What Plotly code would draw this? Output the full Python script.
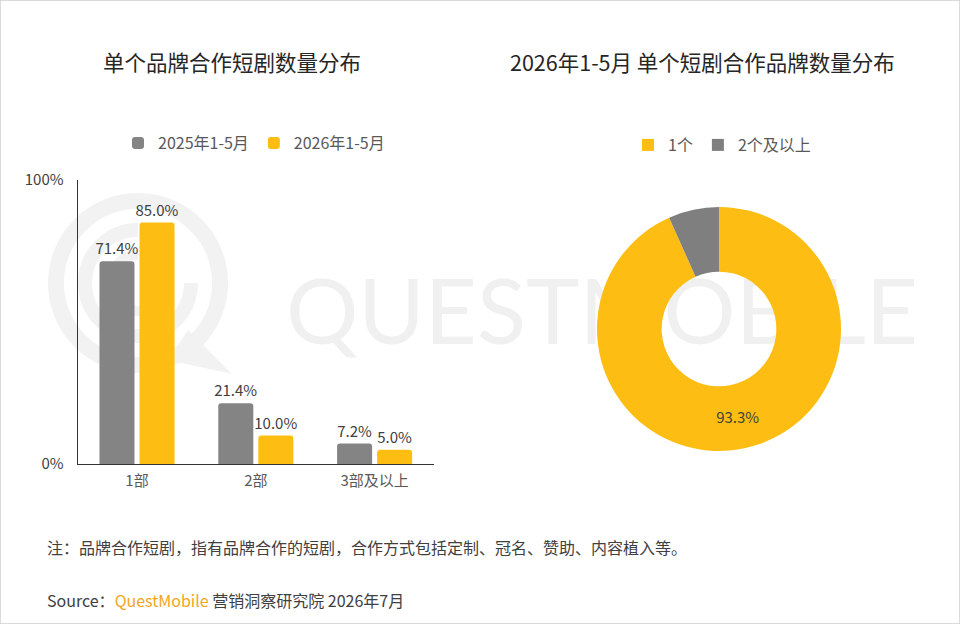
import base64
import plotly.graph_objects as go

# ---------------- data ----------------
bar_categories = ["1部", "2部", "3部及以上"]
series_2025_name = "2025年1-5月"
series_2025 = [71.4, 21.4, 7.2]
series_2026_name = "2026年1-5月"
series_2026 = [85.0, 10.0, 5.0]

pie_labels = ["1个", "2个及以上"]
pie_values = [93.3, 6.7]
pie_text = ["93.3%", ""]

y_tick_vals = [0, 100]
y_tick_text = ["0%", "100%"]

title_left = "单个品牌合作短剧数量分布"
title_right = "2026年1-5月 单个短剧合作品牌数量分布"
note_text = "注：品牌合作短剧，指有品牌合作的短剧，合作方式包括定制、冠名、赞助、内容植入等。"

# ---------------- style ----------------
W, H = 960, 624
FONT = "Noto Sans CJK SC, Microsoft YaHei, sans-serif"
GRAY = "#848484"
YELLOW = "#FDBD12"
TXT = "#404040"


def px_x(p):
    return p / W


def px_y(p):
    return 1 - p / H


# watermark as a background image (below the traces)
svg = f"""<svg xmlns='http://www.w3.org/2000/svg' width='{W}' height='{H}' viewBox='0 0 {W} {H}'>
<g fill='none' stroke='#f2f2f2'>
<circle cx='138' cy='283' r='82' stroke-width='16'/>
<path d='M 138 230 A 53 53 0 1 0 191 283' stroke-width='14'/>
<path d='M 138 255 A 28 28 0 1 0 166 283' stroke-width='10'/>
</g>
<path d='M 188 330 L 232 374 L 168 360 Z' fill='#f2f2f2'/>
<text x='286' y='344' font-family='Lato, Open Sans, DejaVu Sans' font-weight='400' font-size='92' fill='#f0f0f0' textLength='632' lengthAdjust='spacingAndGlyphs'>QUESTMOBILE</text>
</svg>"""
svg_uri = "data:image/svg+xml;base64," + base64.b64encode(svg.encode("utf-8")).decode("ascii")

fig = go.Figure()

fig.add_trace(go.Bar(
    x=bar_categories, y=series_2025, name=series_2025_name,
    marker=dict(color=GRAY, line=dict(width=0)),
    text=[f"{v:.1f}%" for v in series_2025], textposition="outside",
    textfont=dict(size=15, color=TXT), cliponaxis=False, constraintext="none",
    xaxis="x", yaxis="y", legend="legend",
))
fig.add_trace(go.Bar(
    x=bar_categories, y=series_2026, name=series_2026_name,
    marker=dict(color=YELLOW, line=dict(width=0)),
    text=[f"{v:.1f}%" for v in series_2026], textposition="outside",
    textfont=dict(size=15, color=TXT), cliponaxis=False, constraintext="none",
    xaxis="x", yaxis="y", legend="legend",
))

fig.add_trace(go.Pie(
    labels=pie_labels, values=pie_values, text=pie_text,
    textinfo="text", textposition="inside", insidetextorientation="horizontal",
    textfont=dict(size=15, color=TXT),
    hole=0.47, sort=False, direction="clockwise", rotation=0,
    marker=dict(colors=[YELLOW, "#7f7f7f"], line=dict(width=0)),
    domain=dict(x=[px_x(597), px_x(841)], y=[px_y(451), px_y(207)]),
    legend="legend2", showlegend=True,
))

fig.update_layout(
    width=W, height=H,
    margin=dict(l=0, r=0, t=0, b=0, pad=0, autoexpand=False),
    paper_bgcolor="white", plot_bgcolor="rgba(0,0,0,0)",
    font=dict(family=FONT, size=14, color=TXT),
    barmode="group", bargap=0.326, bargroupgap=0.125, barcornerradius=3,
    xaxis=dict(
        domain=[px_x(77.6), px_x(434)], automargin=False,
        showline=True, linecolor="#333333", linewidth=1,
        ticks="", tickfont=dict(size=15, color="#595959"), ticklabelstandoff=3,
        showgrid=False, zeroline=False, fixedrange=True,
    ),
    yaxis=dict(
        domain=[px_y(464), px_y(180)], range=[0, 100], automargin=False,
        tickvals=y_tick_vals, ticktext=y_tick_text,
        showline=True, linecolor="#333333", linewidth=1,
        ticks="", tickfont=dict(size=15, color=TXT), ticklabelstandoff=10,
        showgrid=False, zeroline=False, fixedrange=True,
    ),
    legend=dict(
        orientation="h", x=px_x(118), xanchor="left", y=px_y(143), yanchor="middle",
        font=dict(size=16, color="#595959"), bgcolor="rgba(0,0,0,0)",
        itemclick=False, itemdoubleclick=False,
    ),
    legend2=dict(
        orientation="h", x=px_x(628), xanchor="left", y=px_y(145), yanchor="middle",
        font=dict(size=16, color="#595959"), bgcolor="rgba(0,0,0,0)",
        itemclick=False, itemdoubleclick=False,
    ),
    images=[dict(source=svg_uri, xref="paper", yref="paper", x=0, y=1,
                 sizex=1, sizey=1, xanchor="left", yanchor="top",
                 sizing="stretch", layer="below")],
    shapes=[dict(type="rect", xref="paper", yref="paper", x0=0, y0=0, x1=1, y1=1,
                 line=dict(color="#d0d0d0", width=1.5), fillcolor="rgba(0,0,0,0)")],
    annotations=[
        dict(text=title_left, x=px_x(232), y=px_y(62), xref="paper", yref="paper",
             xanchor="center", yanchor="middle", showarrow=False,
             font=dict(size=21.5, color="#262626")),
        dict(text=title_right, x=px_x(702), y=px_y(62), xref="paper", yref="paper",
             xanchor="center", yanchor="middle", showarrow=False,
             font=dict(size=21.5, color="#262626")),
        dict(text=note_text, x=px_x(45), y=px_y(547), xref="paper", yref="paper",
             xanchor="left", yanchor="middle", showarrow=False,
             font=dict(size=16, color=TXT)),
        dict(text="Source：<span style='color:#F2A51F'>QuestMobile</span> 营销洞察研究院 2026年7月",
             x=px_x(45), y=px_y(600), xref="paper", yref="paper",
             xanchor="left", yanchor="middle", showarrow=False,
             font=dict(size=16, color=TXT)),
    ],
)

post = ("document.documentElement.style.margin='0';"
        "document.body.style.margin='0';document.body.style.overflow='hidden';"
        "var d=document.getElementById('{plot_id}');"
        "d.style.position='fixed';d.style.top='0';d.style.left='0';")

fig.write_html("out.html", config={"displayModeBar": False}, post_script=post)
